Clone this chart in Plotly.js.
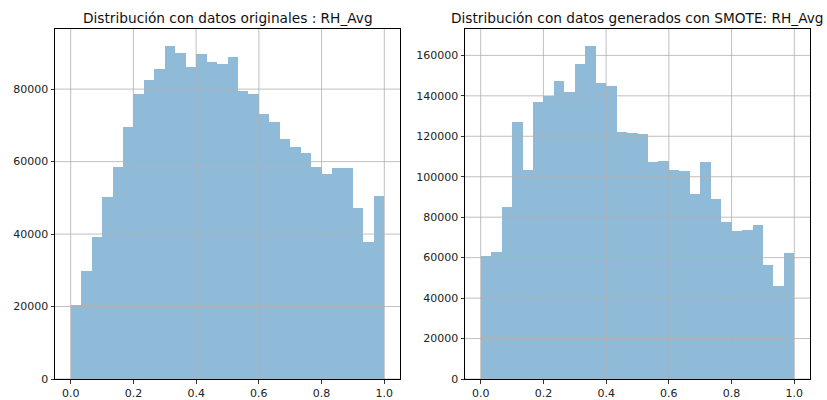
<!DOCTYPE html>
<html>
<head>
<meta charset="utf-8">
<script src="https://cdn.plot.ly/plotly-3.0.1.min.js"></script>
<style>html,body{margin:0;padding:0;background:#fff;}#chart{width:827px;height:400px;}</style>
</head>
<body>
<div id="chart"></div>
<script>
// 30 equal bins on [0, 1]
const binCount = 30;
const binEdgesStart = 0;
const binEdgesEnd = 1;

const titleOriginal = "Distribución con datos originales : RH_Avg";
const titleSmote = "Distribución con datos generados con SMOTE: RH_Avg";

const countsOriginal = [
  20300, 29700, 39100, 50300, 58500, 69600, 78700, 82500, 85600, 92000,
  90100, 86000, 89700, 87500, 87000, 88800, 79600, 78700, 73100, 70800,
  66300, 64000, 62400, 58600, 56500, 58200, 58200, 47300, 37700, 50500
];

const countsSmote = [
  60900, 63000, 84800, 127300, 103200, 136800, 140100, 147300, 141900, 155600,
  164800, 146100, 145100, 122000, 121800, 121000, 107100, 107600, 103100, 102600,
  91400, 107100, 89100, 77800, 73300, 73700, 76000, 56400, 46200, 62500
];

const xTickVals = [0.0, 0.2, 0.4, 0.6, 0.8, 1.0];
const yTickOriginal = [0, 20000, 40000, 60000, 80000];
const yTickSmote = [0, 20000, 40000, 60000, 80000, 100000, 120000, 140000, 160000];

const binWidth = (binEdgesEnd - binEdgesStart) / binCount;
const centers = [];
for (let i = 0; i < binCount; i++) centers.push(binEdgesStart + (i + 0.5) * binWidth);

const barColor = "rgba(31,119,180,0.5)";
const gridColor = "#b0b0b0";
const font = {family: "DejaVu Sans, sans-serif", size: 11, color: "#222"};
const titleFont = {family: "DejaVu Sans, sans-serif", size: 13.7, color: "#111"};

function mk(counts, xa, ya) {
  return {
    type: "bar", x: centers, y: counts, width: binWidth,
    xaxis: xa, yaxis: ya,
    marker: {color: barColor, line: {width: 0}},
    hoverinfo: "x+y", showlegend: false
  };
}

function xAxis(domain, anchor) {
  return {
    domain: domain, anchor: anchor, range: [-0.05, 1.05],
    tickvals: xTickVals, tickformat: ".1f",
    showgrid: false,
    showline: true, linecolor: "#000", linewidth: 1, mirror: true,
    ticks: "outside", ticklen: 3.5, tickcolor: "#000", tickwidth: 0.8,
    zeroline: false, tickfont: font
  };
}
function yAxis(anchor, maxVal, tv) {
  return {
    domain: [0, 1], anchor: anchor, range: [0, maxVal * 1.05],
    tickvals: tv, tickformat: "d",
    showgrid: false,
    showline: true, linecolor: "#000", linewidth: 1, mirror: true,
    ticks: "outside", ticklen: 3.5, tickcolor: "#000", tickwidth: 0.8,
    zeroline: false, tickfont: font
  };
}

// grid lines drawn above the bars (as matplotlib does), at the tick values
function gridShapes(xa, ya, xt, yt) {
  const s = [];
  xt.forEach(v => s.push({type: "line", layer: "above", xref: xa, yref: ya + " domain",
    x0: v, x1: v, y0: 0, y1: 1, line: {color: gridColor, width: 0.8}}));
  yt.forEach(v => s.push({type: "line", layer: "above", xref: xa + " domain", yref: ya,
    x0: 0, x1: 1, y0: v, y1: v, line: {color: gridColor, width: 0.8}}));
  return s;
}

const d1 = [55/827, 400/827];
const d2 = [465/827, 810/827];

const layout = {
  width: 827, height: 400,
  margin: {l: 0, r: 0, t: 29, b: 21},
  paper_bgcolor: "#fff", plot_bgcolor: "#fff",
  bargap: 0,
  xaxis: xAxis(d1, "y"),
  yaxis: yAxis("x", Math.max(...countsOriginal), yTickOriginal),
  xaxis2: xAxis(d2, "y2"),
  yaxis2: yAxis("x2", Math.max(...countsSmote), yTickSmote),
  shapes: gridShapes("x", "y", xTickVals, yTickOriginal)
    .concat(gridShapes("x2", "y2", xTickVals, yTickSmote)),
  annotations: [
    {text: titleOriginal, xref: "paper", yref: "paper", x: (d1[0]+d1[1])/2, y: 1,
     xanchor: "center", yanchor: "bottom", yshift: 1, showarrow: false, font: titleFont},
    {text: titleSmote, xref: "paper", yref: "paper", x: (d2[0]+d2[1])/2, y: 1,
     xanchor: "center", yanchor: "bottom", yshift: 1, showarrow: false, font: titleFont}
  ]
};

Plotly.newPlot("chart", [mk(countsOriginal, "x", "y"), mk(countsSmote, "x2", "y2")], layout, {displayModeBar: false, staticPlot: true});
</script>
</body>
</html>
